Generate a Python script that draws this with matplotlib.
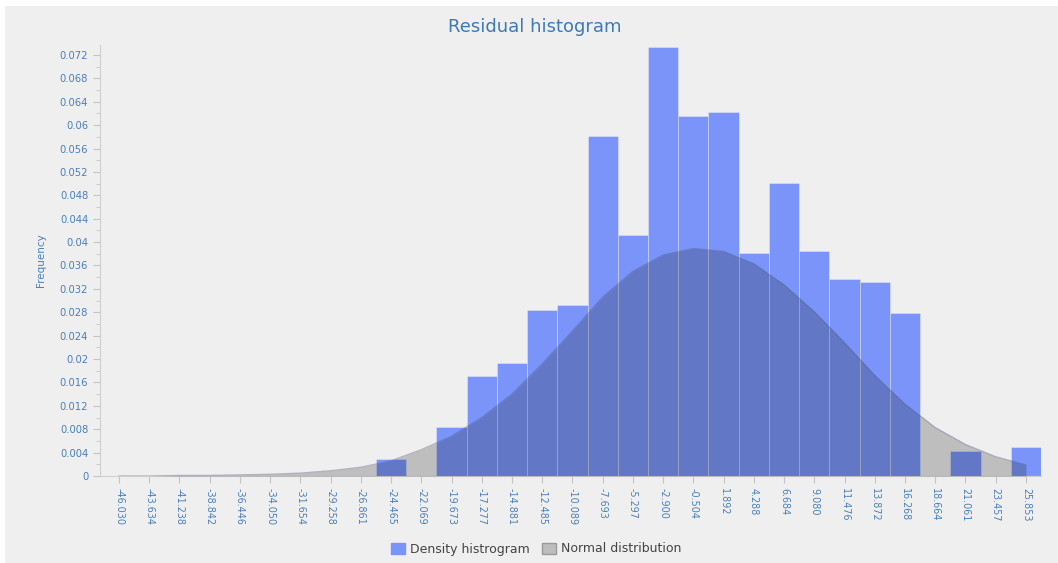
import numpy as np
import matplotlib.pyplot as plt
from matplotlib.patches import Patch, Rectangle

# bin centres of the residual histogram (as printed on the axis)
bin_labels = ["-46.030", "-43.634", "-41.238", "-38.842", "-36.446", "-34.050",
              "-31.654", "-29.258", "-26.861", "-24.465", "-22.069", "-19.673",
              "-17.277", "-14.881", "-12.485", "-10.089", "-7.693", "-5.297",
              "-2.900", "-0.504", "1.892", "4.288", "6.684", "9.080", "11.476",
              "13.872", "16.268", "18.664", "21.061", "23.457", "25.853"]
bin_width = 2.396

# density of residuals per bin
density = [0.0, 0.0, 0.0, 0.0, 0.0, 0.0, 0.0, 0.0, 0.0, 0.0029, 0.0, 0.0084,
           0.0171, 0.0193, 0.0284, 0.0292, 0.0581, 0.0412, 0.0734, 0.0616,
           0.0623, 0.0381, 0.0501, 0.0385, 0.0337, 0.0332, 0.0279, 0.0, 0.0043,
           0.0, 0.0050]

# fitted normal density evaluated at the bin centres
normal_pdf = [0.0000, 0.0000, 0.0001, 0.0001, 0.0002, 0.0003, 0.0005, 0.0009,
              0.0015, 0.0026, 0.0045, 0.0068, 0.0100, 0.0140, 0.0192, 0.0248,
              0.0306, 0.0350, 0.0378, 0.0389, 0.0384, 0.0363, 0.0327, 0.0281,
              0.0228, 0.0172, 0.0123, 0.0083, 0.0054, 0.0033, 0.0019]

yticks = np.arange(0, 0.0721, 0.004)

BG = "#efefef"
BLUE_TXT = "#4a7fb8"
BAR = "#7a94fa"

centres = np.array([float(s) for s in bin_labels])

fig = plt.figure(figsize=(10.58, 5.63), dpi=100, facecolor="white")
fig.patches.append(Rectangle((5 / 1058, 0), 1, 557 / 563, transform=fig.transFigure,
                             facecolor=BG, edgecolor="none", zorder=-10))
ax = fig.add_axes([100 / 1058, 1 - 476 / 563, 941 / 1058, 431 / 563])
ax.set_facecolor(BG)

mask = np.array(density) > 0
ax.bar(centres[mask], np.array(density)[mask], width=bin_width, color=BAR,
       edgecolor=(1, 1, 1, 0.35), linewidth=0.6, zorder=2)
ax.fill_between(centres, normal_pdf, 0, color="#101010", alpha=0.22,
                linewidth=0, zorder=3)
ax.plot(centres, normal_pdf, color="#505878", alpha=0.4, lw=0.9, zorder=4,
        solid_joinstyle="round")

ax.set_xlim(centres[0] - 0.63 * bin_width, centres[-1] + 0.5 * bin_width)
ax.set_ylim(0, 0.0737)
ax.set_xticks(centres)
ax.set_xticklabels(bin_labels, rotation=-90, fontsize=6.9, color=BLUE_TXT)
ax.set_yticks(yticks)
ax.set_yticklabels([f"{v:g}" if v > 0 else "0" for v in yticks],
                   fontsize=7.2, color=BLUE_TXT)
ax.set_yticks(np.arange(0.002, 0.0737, 0.004), minor=True)
ax.tick_params(axis="both", colors="#c4c4c4", labelcolor=BLUE_TXT, length=5,
               width=0.8)
ax.tick_params(axis="y", which="minor", colors="#c4c4c4", length=3)
for side in ("top", "right"):
    ax.spines[side].set_visible(False)
for side in ("left", "bottom"):
    ax.spines[side].set_color("#cfcfcf")
    ax.spines[side].set_linewidth(0.8)

ax.set_ylabel("Frequency", fontsize=7.5, color=BLUE_TXT, labelpad=10)
fig.text(535 / 1058, 1 - 27 / 563, "Residual histogram", ha="center",
         va="center", fontsize=13, color="#3d7ab3")

handles = [Patch(facecolor=BAR, edgecolor=BAR),
           Patch(facecolor="#bdbdbd", edgecolor="#9a9a9a")]
fig.legend(handles, ["Density histrogram", "Normal distribution"],
           loc="center", bbox_to_anchor=(536 / 1058, 1 - 549 / 563), ncol=2,
           frameon=False, fontsize=9, handlelength=1.1, handleheight=1.0,
           handletextpad=0.4, columnspacing=1.0, labelcolor="#444444")

fig.savefig("out.png", dpi=100, facecolor="white")
